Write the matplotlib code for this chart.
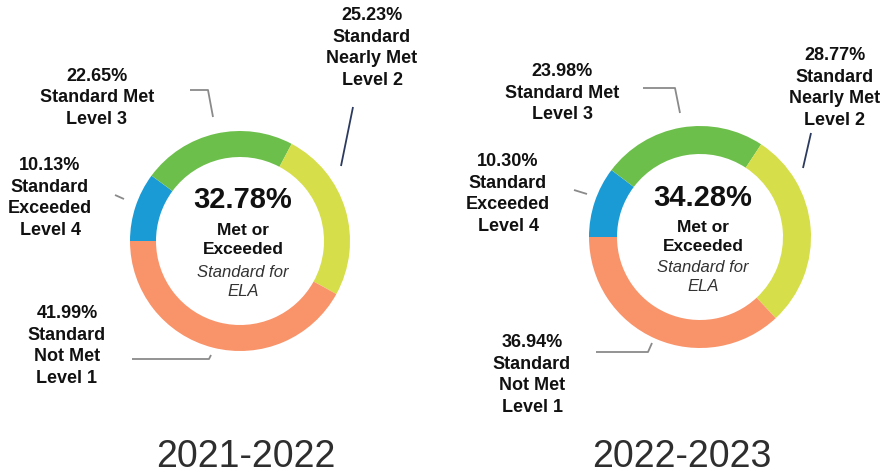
import matplotlib
matplotlib.use("Agg")
import matplotlib.pyplot as plt

plt.rcParams['font.family'] = ['Liberation Sans', 'DejaVu Sans']

# ---- data ----
years = ['2021-2022', '2022-2023']
levels = ['Level 4', 'Level 3', 'Level 2', 'Level 1']
level_names = ['Standard\nExceeded', 'Standard Met', 'Standard\nNearly Met', 'Standard\nNot Met']
pct_2122 = [10.13, 22.65, 25.23, 41.99]
pct_2223 = [10.30, 23.98, 28.77, 36.94]
met_2122 = 32.78
met_2223 = 34.28
center_sub = 'Met or\nExceeded'
center_sub2 = 'Standard for\nELA'

colors = ['#1a9bd5', '#6dbf4b', '#d6de4a', '#f9936a']

W, H = 885, 476
fig = plt.figure(figsize=(W / 100, H / 100), dpi=100)
ax = fig.add_axes([0, 0, 1, 1])

def Y(y):
    return H - y

# layout per chart
layouts = [
    dict(center=(240, 241), R=110, width=26,
         title=(246, 457), big=(243, 200), sub=(243, 240), sub2=(243, 282),
         labels=[(50, 198), (97, 98), (372, 48), (67, 346)],
         lines=[[(115, 195), (124, 199)],
                [(190, 90), (208, 90), (213, 117)],
                [(353, 107), (341, 166)],
                [(132, 359), (209, 359), (211, 355)]]),
    dict(center=(700, 237), R=111, width=28,
         title=(682, 457), big=(703, 198), sub=(703, 237), sub2=(703, 277),
         labels=[(508, 194), (562, 93), (835, 88), (532, 375)],
         lines=[[(574, 190), (587, 194)],
                [(643, 88), (675, 88), (680, 113)],
                [(811, 133), (803, 168)],
                [(596, 352), (648, 352), (652, 343)]]),
]
data = [pct_2122, pct_2223]
mets = [met_2122, met_2223]
line_colors = ['#8a8a8a', '#8a8a8a', '#2b3a5e', '#8a8a8a']

for vals, met, year, L in zip(data, mets, years, layouts):
    cx, cy = L['center']
    ax.pie(vals, colors=colors, startangle=180, counterclock=False,
           center=(cx, Y(cy)), radius=L['R'], frame=True,
           wedgeprops=dict(width=L['width'], edgecolor='none'))
    # center text
    ax.text(L['big'][0], Y(L['big'][1]), f'{met:.2f}%', ha='center', va='center',
            fontsize=21, fontweight='bold', color='#111111')
    ax.text(L['sub'][0], Y(L['sub'][1]), center_sub, ha='center', va='center',
            fontsize=12.5, fontweight='bold', color='#111111', linespacing=1.38)
    ax.text(L['sub2'][0], Y(L['sub2'][1]), center_sub2, ha='center', va='center',
            fontsize=12, fontstyle='italic', color='#333333', linespacing=1.28)
    # year title
    ax.text(L['title'][0], Y(L['title'][1]), year, ha='center', va='center',
            fontsize=27, color='#2e2e2e')
    # segment labels
    for v, name, lev, pos in zip(vals, level_names, levels, L['labels']):
        ax.text(pos[0], Y(pos[1]), f'{v:.2f}%\n{name}\n{lev}', ha='center', va='center',
                fontsize=13, fontweight='bold', color='#111111', linespacing=1.36)
    # leader lines
    for pts, lc in zip(L['lines'], line_colors):
        xs = [p[0] for p in pts]
        ys = [Y(p[1]) for p in pts]
        ax.plot(xs, ys, color=lc, lw=1.3, solid_capstyle='butt')

ax.set_xlim(0, W)
ax.set_ylim(0, H)
ax.set_aspect('equal')
ax.axis('off')
fig.savefig('out.png', dpi=100, facecolor='white')
